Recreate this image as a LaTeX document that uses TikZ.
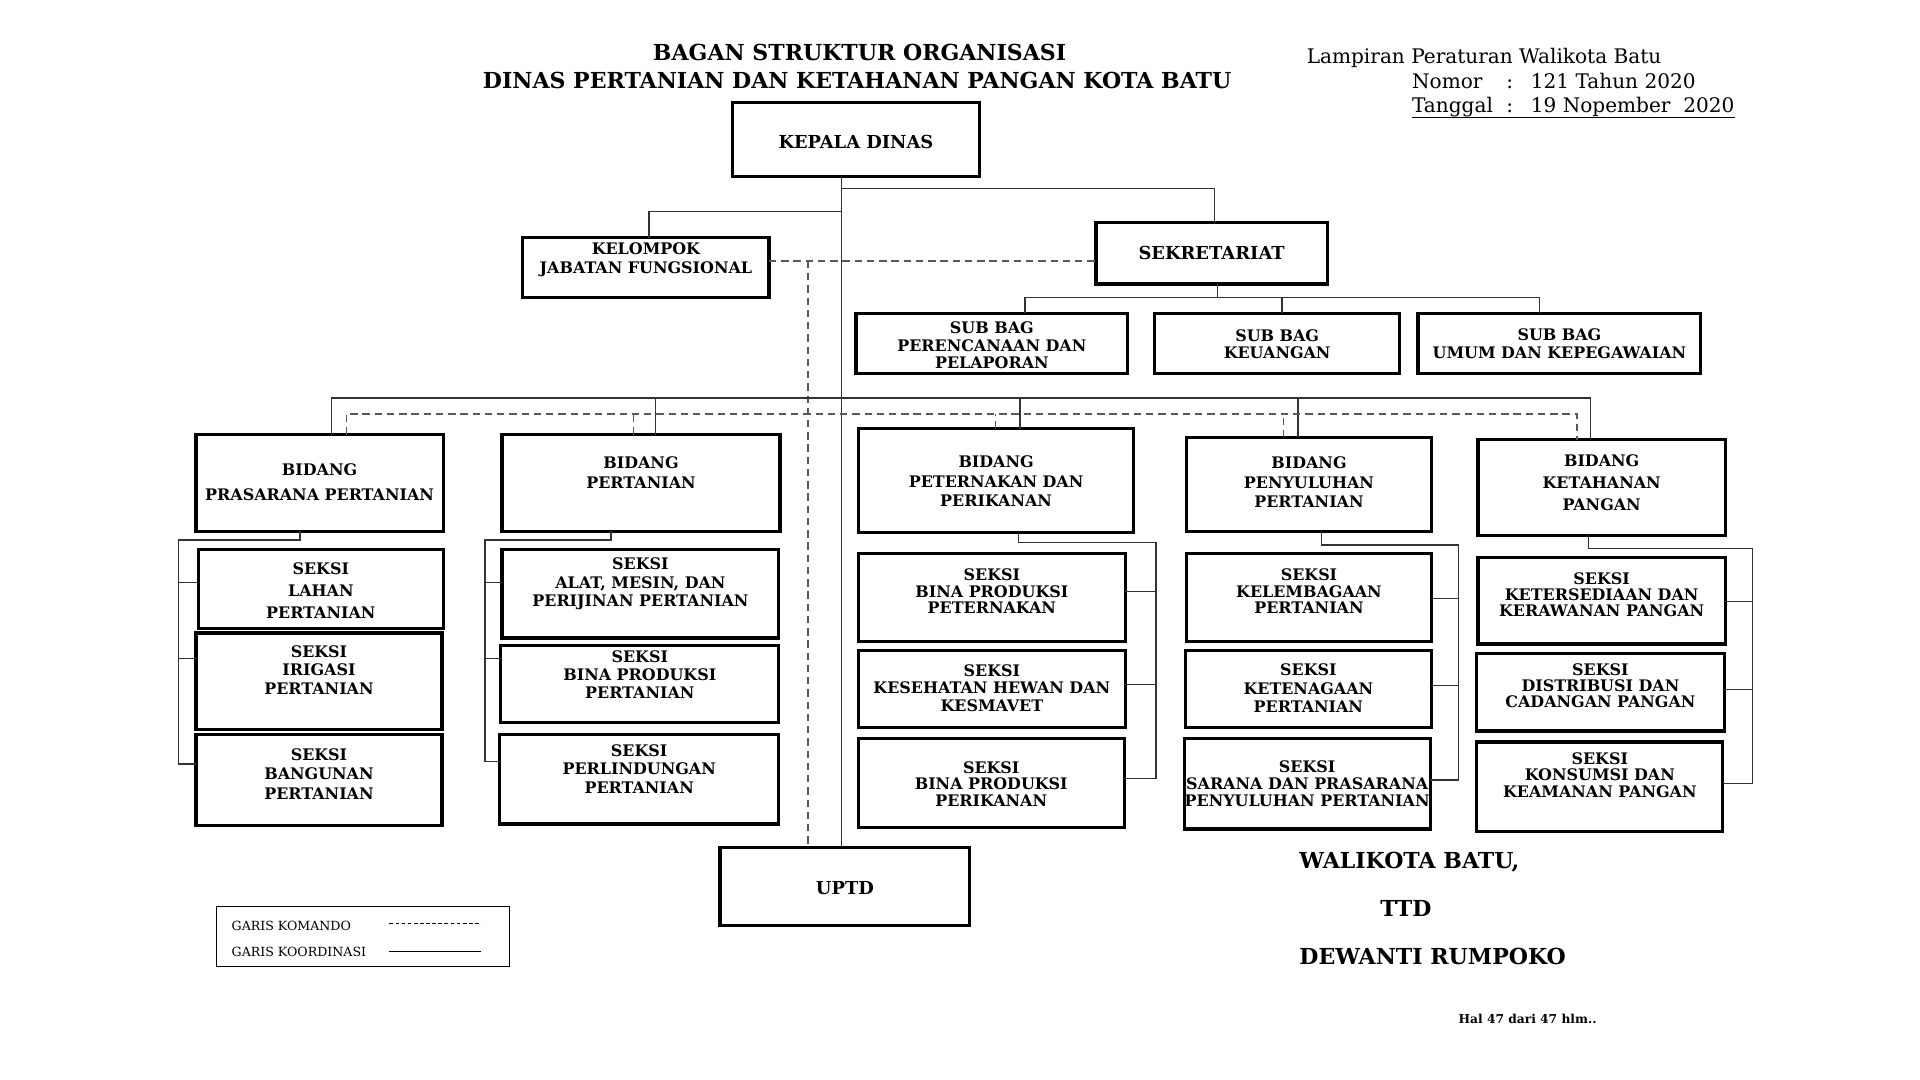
\documentclass[tikz,border=0pt]{standalone}
\usepackage{fontspec}
\setmainfont{DejaVu Serif}
\usetikzlibrary{calc}
\tikzset{
 bx/.style={draw=black, line width=2.6pt, inner sep=0pt, outer sep=0pt},
 tx/.style={align=center, inner sep=0pt, font={\fontsize{13}{14.5}\selectfont\bfseries}},
 ls/.style={font={\fontsize{13}{#1}\selectfont\bfseries}},
 big/.style={font={\fontsize{14.6}{16}\selectfont\bfseries}},
 ln/.style={draw=black!80, line width=1pt},
 dsh/.style={draw=black!65, line width=1.2pt, dash pattern=on 6pt off 4pt},
 hd/.style={inner sep=0pt, font={\fontsize{16.4}{18}\selectfont}},
 ttl/.style={inner sep=0pt, font={\fontsize{18}{20}\selectfont\bfseries}},
 sig/.style={inner sep=0pt, anchor=west, font={\fontsize{18}{20}\selectfont\bfseries}},
 lg/.style={inner sep=0pt, anchor=west, font={\fontsize{10.3}{12}\selectfont}},
}
\newcommand\obox[8][]{%
  \node[bx, minimum width={(#5-#3)*1pt}, minimum height={(#6-#4)*1pt}] (#2) at ({(#3+#5)/2},{(#4+#6)/2}) {};
  \node[tx,#1] (#2-t) at ({(#3+#5)/2},#7) {#8};}
\begin{document}
\begin{tikzpicture}[x=1pt,y=-1pt]
\useasboundingbox[fill=white] (0,0) rectangle (1568,882);

% titles
\node[ttl] (t1) at (702,43) {BAGAN STRUKTUR ORGANISASI};
\node[ttl] (t2) at (700,66) {DINAS PERTANIAN DAN KETAHANAN PANGAN KOTA BATU};
\node[hd, anchor=base west] (h1) at (1067,52) {Lampiran Peraturan Walikota Batu};
\node[hd, anchor=base west] (h2) at (1153,72) {\makebox[77pt][l]{Nomor}\makebox[20pt][l]{:}121 Tahun 2020};
\node[hd, anchor=base west] (h3) at (1153,92) {\makebox[77pt][l]{Tanggal}\makebox[20pt][l]{:}19 Nopember\ \ 2020};
\draw[line width=0.8pt] ([yshift=-0.5pt]h3.south west) -- ([yshift=-0.5pt]h3.south east);

% boxes: name, x1, y1, x2, y2, text centre y, text
\obox[big]{kd}{598}{84}{800}{144}{116}{KEPALA DINAS}
\obox[ls=16]{kjf}{427}{194}{628}{243}{212}{KELOMPOK\\JABATAN FUNGSIONAL}
\obox[big]{sek}{895}{182}{1084}{232}{207}{SEKRETARIAT}
\obox[ls=14]{sb1}{699}{256}{921}{305}{282}{SUB BAG\\PERENCANAAN DAN\\PELAPORAN}
\obox[ls=14]{sb2}{943}{256}{1143}{305}{281}{SUB BAG\\KEUANGAN}
\obox[ls=15]{sb3}{1158}{256}{1389}{305}{280.5}{SUB BAG\\UMUM DAN KEPEGAWAIAN}

\obox[ls=20]{pras}{160}{355}{362}{434}{394}{BIDANG\\PRASARANA PERTANIAN}
\obox[ls=16]{pert}{410}{355}{637}{434}{386}{BIDANG\\PERTANIAN}
\obox[ls=16]{pet}{701}{350}{926}{435}{393}{BIDANG\\PETERNAKAN DAN\\PERIKANAN}
\obox[ls=16]{peny}{969}{357}{1169}{434}{394}{BIDANG\\PENYULUHAN\\PERTANIAN}
\obox[ls=18]{ket}{1207}{359}{1409}{437}{394}{BIDANG\\KETAHANAN\\PANGAN}

\obox[ls=18]{lahan}{162}{449}{362}{513}{482}{SEKSI\\LAHAN\\PERTANIAN}
\obox[ls=15]{irig}{160}{517}{361}{596}{547}{SEKSI\\IRIGASI\\PERTANIAN}
\obox[ls=16]{bang}{160}{600}{361}{674}{632}{SEKSI\\BANGUNAN\\PERTANIAN}

\obox[ls=15]{alat}{410}{449}{636}{521}{477}{SEKSI\\ALAT, MESIN, DAN\\PERIJINAN PERTANIAN}
\obox[ls=14.5]{bpp}{409}{527}{636}{590}{551}{SEKSI\\BINA PRODUKSI\\PERTANIAN}
\obox[ls=15]{perl}{408}{600}{636}{673}{628}{SEKSI\\PERLINDUNGAN\\PERTANIAN}

\obox[ls=13.5]{bpt}{701}{452}{919}{524}{483}{SEKSI\\BINA PRODUKSI\\PETERNAKAN}
\obox[ls=14.5]{kes}{701}{531}{919}{594}{562}{SEKSI\\KESEHATAN HEWAN DAN\\KESMAVET}
\obox[ls=13.5]{perik}{701}{603}{918}{676}{640}{SEKSI\\BINA PRODUKSI\\PERIKANAN}

\obox[ls=13.5]{kel}{969}{452}{1169}{524}{483}{SEKSI\\KELEMBAGAAN\\PERTANIAN}
\obox[ls=15]{keten}{968}{531}{1169}{594}{562}{SEKSI\\KETENAGAAN\\PERTANIAN}
\obox[ls=13.5]{sar}{967}{603}{1168}{677}{640}{SEKSI\\SARANA DAN PRASARANA\\PENYULUHAN PERTANIAN}

\obox[ls=13]{keter}{1207}{455}{1409}{526}{486}{SEKSI\\KETERSEDIAAN DAN\\KERAWANAN PANGAN}
\obox[ls=13]{dist}{1206}{534}{1408}{597}{560}{SEKSI\\DISTRIBUSI DAN\\CADANGAN PANGAN}
\obox[ls=13.5]{kons}{1206}{606}{1407}{679}{633}{SEKSI\\KONSUMSI DAN\\KEAMANAN PANGAN}

\obox[big]{uptd}{588}{692}{792}{756}{725}{UPTD}

% top connectors
\draw[ln] ([xshift=-12pt]kd.south) -- ([xshift=-3pt]uptd.north);
\coordinate (k1) at ([xshift=-12pt,yshift=-10pt]kd.south);
\coordinate (k2) at ([xshift=-12pt,yshift=-29pt]kd.south);
\draw[ln] (k1) -| ([xshift=2.5pt]sek.north);
\draw[ln] (k2) -| ([xshift=2.5pt]kjf.north);

% coordination (dashed)
\coordinate (d0) at ([yshift=5.5pt]kjf.east);
\draw[dsh] (d0) -- (d0 -| sek.west);
\draw[dsh] ([xshift=32pt]d0) -- ([xshift=-30pt]uptd.north);

% sekretariat to sub bagian
\coordinate (s0) at ([xshift=4.5pt,yshift=-11pt]sek.south);
\draw[ln] ([xshift=4.5pt]sek.south) -- (s0);
\draw[ln] ([xshift=27pt]sb1.north) |- (s0) -| ([xshift=-16.5pt]sb3.north);
\coordinate (sb2n) at ([xshift=4pt]sb2.north);
\draw[ln] (sb2n) -- (sb2n |- s0);

% bidang bus (solid)
\coordinate (bb) at ($(k1)+(0,171)$);
\coordinate (b1) at ([xshift=10pt]pras.north);
\coordinate (b2) at ([xshift=12pt]pert.north);
\coordinate (b3) at ([xshift=19.5pt]pet.north);
\coordinate (b4) at ([xshift=-9pt]peny.north);
\coordinate (b5) at ([xshift=-9pt]ket.north);
\draw[ln] (b1) |- (bb) -| (b5);
\foreach \b in {b2,b3,b4} \draw[ln] (\b) -- (\b |- bb);

% bidang bus (dashed)
\coordinate (db) at ($(bb)+(-27,13)$);
\coordinate (c1) at ([xshift=22pt]pras.north);
\coordinate (c2) at ([xshift=-6pt]pert.north);
\coordinate (c3) at ([xshift=-0.5pt]pet.north);
\coordinate (c4) at ([xshift=-21pt]peny.north);
\coordinate (c5) at ([xshift=-20pt]ket.north);
\draw[dsh] (c1) |- (db) -| (c5);
\foreach \c in {c2,c3,c4} \draw[dsh] (\c) -- (\c |- db);

% seksi trees
\coordinate (pa) at ([xshift=-16pt]pras.south);
\coordinate (pb) at ([yshift=-7pt]pa);
\coordinate (ps) at ($(pb)+(-99,0)$);
\draw[ln] (pa) -- (pb) -- (ps) |- ([yshift=13pt]bang.west);
\foreach \c/\d in {lahan/5,irig/18.5}{\coordinate (t) at ([yshift=\d pt]\c.west); \draw[ln] (t) -- (t -| ps);}

\coordinate (qa) at ([xshift=-24.5pt]pert.south);
\coordinate (qb) at ([yshift=-7pt]qa);
\coordinate (qs) at ($(qb)+(-103,0)$);
\draw[ln] (qa) -- (qb) -- (qs) |- ([yshift=14.5pt]perl.west);
\foreach \c/\d in {alat/9.5,bpp/20.5}{\coordinate (t) at ([yshift=\d pt]\c.west); \draw[ln] (t) -- (t -| qs);}

\coordinate (ra) at ([xshift=18.5pt]pet.south);
\coordinate (rb) at ([yshift=-8pt]ra);
\coordinate (rs) at ($(rb)+(112,0)$);
\draw[ln] (ra) -- (rb) -- (rs) |- ([yshift=3.5pt]perik.east);
\foreach \c/\d in {bpt/5,kes/3.5}{\coordinate (t) at ([yshift=\d pt]\c.east); \draw[ln] (t) -- (t -| rs);}

\coordinate (ua) at ([xshift=10pt]peny.south);
\coordinate (ub) at ([yshift=-11pt]ua);
\coordinate (us) at ($(ub)+(112,0)$);
\draw[ln] (ua) -- (ub) -- (us) |- ([yshift=3pt]sar.east);
\foreach \c/\d in {kel/-1,keten/2.5}{\coordinate (t) at ([yshift=\d pt]\c.east); \draw[ln] (t) -- (t -| us);}

\coordinate (va) at ([xshift=-11pt]ket.south);
\coordinate (vb) at ([yshift=-11pt]va);
\coordinate (vs) at ($(vb)+(134,0)$);
\draw[ln] (va) -- (vb) -- (vs) |- ([yshift=2.5pt]kons.east);
\foreach \c/\d in {keter/-0.5,dist/2.5}{\coordinate (t) at ([yshift=\d pt]\c.east); \draw[ln] (t) -- (t -| vs);}

% legend
\node[draw, line width=0.8pt, minimum width=239pt, minimum height=49pt, inner sep=0pt] (leg) at (296.5,764.5) {};
\node[lg] (lk) at (189,756) {GARIS KOMANDO};
\node[lg] (lc) at (189,777) {GARIS KOORDINASI};
\coordinate (lk1) at (318,754); \coordinate (lk2) at (393,754);
\coordinate (lc1) at (318,777); \coordinate (lc2) at (393,777);
\draw[line width=0.8pt, dash pattern=on 3pt off 2pt] (lk1) -- (lk2);
\draw[line width=1pt] (lc1) -- (lc2);

% signature
\node[sig] (w1) at (1061,704) {WALIKOTA BATU,};
\node[sig] (w2) at (1127,742) {TTD};
\node[sig] (w3) at (1061,781) {DEWANTI RUMPOKO};
\node[inner sep=0pt, anchor=west, font={\fontsize{10}{11}\selectfont\bfseries}] (hal) at (1191,832) {Hal 47 dari 47 hlm..};
\end{tikzpicture}
\end{document}
